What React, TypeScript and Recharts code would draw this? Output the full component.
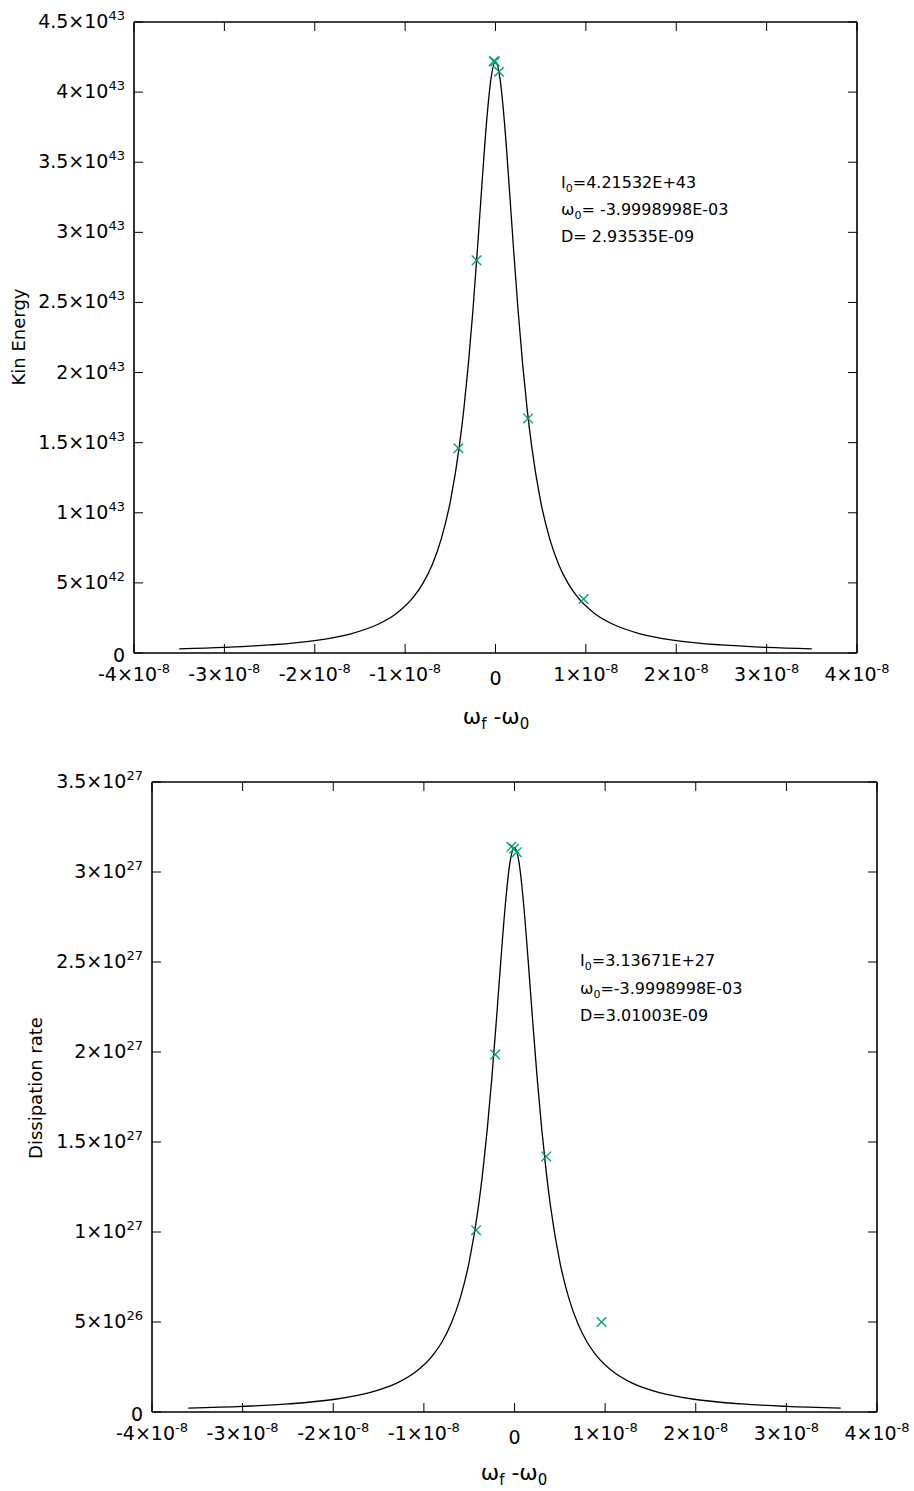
import React from "react";
import { ComposedChart, Line, Scatter, XAxis, YAxis } from "recharts";

// --- data ---
const X_TICKS = [-4e-8, -3e-8, -2e-8, -1e-8, 0, 1e-8, 2e-8, 3e-8, 4e-8];

const KIN_Y_TICKS = [0, 5e42, 1e43, 1.5e43, 2e43, 2.5e43, 3e43, 3.5e43, 4e43, 4.5e43];
const KIN_CURVE_X = [
  -35e-9, -30e-9, -25e-9, -20e-9, -16e-9, -13e-9, -11e-9, -9e-9, -8e-9, -7e-9, -6e-9, -5e-9, -4e-9, -3.5e-9,
  -3e-9, -2.5e-9, -2e-9, -1.5e-9, -1e-9, -0.5e-9, 0, 0.5e-9, 1e-9, 1.5e-9, 2e-9, 2.5e-9, 3e-9, 3.5e-9, 4e-9,
  5e-9, 6e-9, 7e-9, 8e-9, 9e-9, 11e-9, 13e-9, 16e-9, 20e-9, 25e-9, 30e-9, 35e-9,
];
const KIN_CURVE_Y = [
  2.94e41, 4.0e41, 5.73e41, 8.89e41, 1.37e42, 2.05e42, 2.8e42, 4.05e42, 5.0e42, 6.3e42, 8.14e42, 1.08e43, 1.475e43, 1.741e43,
  2.062e43, 2.443e43, 2.879e43, 3.342e43, 3.777e43, 4.096e43, 4.215e43, 4.096e43, 3.777e43, 3.342e43, 2.879e43, 2.443e43, 2.062e43, 1.741e43, 1.475e43,
  1.08e43, 8.14e42, 6.3e42, 5.0e42, 4.05e42, 2.8e42, 2.05e42, 1.37e42, 8.89e41, 5.73e41, 4.0e41, 2.94e41,
];
const KIN_PTS_X = [-4.1e-9, -2.1e-9, -0.2e-9, -0.05e-9, 0.39e-9, 3.6e-9, 9.75e-9];
const KIN_PTS_Y = [1.46e43, 2.8e43, 4.22e43, 4.218e43, 4.145e43, 1.673e43, 3.85e42];

const DIS_Y_TICKS = [0, 5e26, 1e27, 1.5e27, 2e27, 2.5e27, 3e27, 3.5e27];
const DIS_CURVE_X = [
  -36e-9, -30e-9, -25e-9, -20e-9, -16e-9, -13e-9, -11e-9, -9e-9, -8e-9, -7e-9, -6e-9, -5e-9, -4e-9, -3.5e-9,
  -3e-9, -2.5e-9, -2e-9, -1.5e-9, -1e-9, -0.5e-9, 0, 0.5e-9, 1e-9, 1.5e-9, 2e-9, 2.5e-9, 3e-9, 3.5e-9, 4e-9,
  5e-9, 6e-9, 7e-9, 8e-9, 9e-9, 11e-9, 13e-9, 16e-9, 20e-9, 25e-9, 30e-9, 36e-9,
];
const DIS_CURVE_Y = [
  2.18e25, 3.13e25, 4.48e25, 6.95e25, 1.07e26, 1.6e26, 2.19e26, 3.16e26, 3.89e26, 4.9e26, 6.31e26, 8.34e26, 1.134e27, 1.334e27,
  1.574e27, 1.856e27, 2.176e27, 2.513e27, 2.825e27, 3.053e27, 3.137e27, 3.053e27, 2.825e27, 2.513e27, 2.176e27, 1.856e27, 1.574e27, 1.334e27, 1.134e27,
  8.34e26, 6.31e26, 4.9e26, 3.89e26, 3.16e26, 2.19e26, 1.6e26, 1.07e26, 6.95e25, 4.48e25, 3.13e25, 2.18e25,
];
const DIS_PTS_X = [-4.24e-9, -2.13e-9, -0.35e-9, -0.05e-9, 0.25e-9, 3.5e-9, 9.6e-9];
const DIS_PTS_Y = [1.01e27, 1.986e27, 3.14e27, 3.13e27, 3.11e27, 1.42e27, 5.0e26];

const FONT = "DejaVu Sans";
const GREEN = "#009e73";
const TICK_LEN = 9;

function sci(v: number) {
  if (v === 0) return { m: "0", e: "" };
  const [m, e] = v.toExponential().split("e");
  return { m, e: String(parseInt(e, 10)) };
}

function Label10({ v, x, y, anchor, supBase, plainBase }: any) {
  const { m, e } = sci(v);
  if (!e) {
    return (
      <text x={x} y={y + plainBase} textAnchor={anchor} fontSize={19} fontFamily={FONT} fill="#000">
        {m}
      </text>
    );
  }
  return (
    <text x={x} y={y + supBase} textAnchor={anchor} fontSize={19} fontFamily={FONT} fill="#000">
      {m}×10<tspan dy={-8} fontSize={13}>{e}</tspan>
    </text>
  );
}

const BottomTick = (props: any) => {
  const { x, y, payload } = props;
  return (
    <g>
      <line x1={x} x2={x} y1={y} y2={y - TICK_LEN} stroke="#000" strokeWidth={1} />
      <Label10 v={payload.value} x={x} y={y} anchor="middle" supBase={28} plainBase={32} />
    </g>
  );
};
const TopTick = (props: any) => {
  const { x, y } = props;
  return <line x1={x} x2={x} y1={y} y2={y + TICK_LEN} stroke="#000" strokeWidth={1} />;
};
const LeftTick = (props: any) => {
  const { x, y, payload } = props;
  return (
    <g>
      <line x1={x} x2={x + TICK_LEN} y1={y} y2={y} stroke="#000" strokeWidth={1} />
      <Label10 v={payload.value} x={x - 9} y={y} anchor="end" supBase={6} plainBase={9} />
    </g>
  );
};
const RightTick = (props: any) => {
  const { x, y } = props;
  return <line x1={x} x2={x - TICK_LEN} y1={y} y2={y} stroke="#000" strokeWidth={1} />;
};

const XMark = (props: any) => {
  const { cx, cy } = props;
  const r = 4.8;
  return (
    <g stroke={GREEN} strokeWidth={1.3}>
      <line x1={cx - r} y1={cy - r} x2={cx + r} y2={cy + r} />
      <line x1={cx - r} y1={cy + r} x2={cx + r} y2={cy - r} />
    </g>
  );
};

const AXIS_LINE = { stroke: "#000", strokeWidth: 1.6 };

function Panel({ height, left, right, top, bottom, yTicks, yMax, curve, pts }: any) {
  const xDomain = [-4e-8, 4e-8];
  return (
    <ComposedChart width={914} height={height} margin={{ top: 0, right: 0, bottom: 0, left: 0 }}>
      <XAxis xAxisId="b" dataKey="x" type="number" domain={xDomain} ticks={X_TICKS} interval={0} allowDataOverflow
        height={bottom} tickSize={0} tickMargin={0} tickLine={false} axisLine={AXIS_LINE} tick={<BottomTick />} />
      <XAxis xAxisId="t" orientation="top" dataKey="x" type="number" domain={xDomain} ticks={X_TICKS} interval={0} allowDataOverflow
        height={top} tickSize={0} tickMargin={0} tickLine={false} axisLine={AXIS_LINE} tick={<TopTick />} />
      <YAxis yAxisId="l" dataKey="y" type="number" domain={[0, yMax]} ticks={yTicks} interval={0} allowDataOverflow
        width={left} tickSize={0} tickMargin={0} tickLine={false} axisLine={AXIS_LINE} tick={<LeftTick />} />
      <YAxis yAxisId="r" orientation="right" dataKey="y" type="number" domain={[0, yMax]} ticks={yTicks} interval={0} allowDataOverflow
        width={right} tickSize={0} tickMargin={0} tickLine={false} axisLine={AXIS_LINE} tick={<RightTick />} />
      <Line xAxisId="b" yAxisId="l" data={curve} dataKey="y" type="monotone" stroke="#000" strokeWidth={1.3}
        dot={false} activeDot={false} isAnimationActive={false} />
      <Scatter xAxisId="t" yAxisId="r" data={pts} dataKey="y" shape={<XMark />} isAnimationActive={false} />
    </ComposedChart>
  );
}

const zip = (xs: number[], ys: number[]) => xs.map((x, i) => ({ x, y: ys[i] }));

export default function App() {
  const kinCurve = zip(KIN_CURVE_X, KIN_CURVE_Y);
  const kinPts = zip(KIN_PTS_X, KIN_PTS_Y);
  const disCurve = zip(DIS_CURVE_X, DIS_CURVE_Y);
  const disPts = zip(DIS_PTS_X, DIS_PTS_Y);
  return (
    <div style={{ position: "absolute", left: 0, top: 0, width: 914, height: 1491, background: "#fff", fontFamily: FONT }}>
      <div style={{ position: "absolute", left: 0, top: 0 }}>
        <Panel height={760} left={134} right={57} top={22} bottom={107} yTicks={KIN_Y_TICKS} yMax={4.5e43}
          curve={kinCurve} pts={kinPts} />
      </div>
      <div style={{ position: "absolute", left: 0, top: 760 }}>
        <Panel height={731} left={152} right={37} top={22} bottom={79} yTicks={DIS_Y_TICKS} yMax={3.5e27}
          curve={disCurve} pts={disPts} />
      </div>
      <svg width={914} height={1491} style={{ position: "absolute", left: 0, top: 0, pointerEvents: "none" }}
        fontFamily={FONT} fill="#000">
        <text transform="translate(25,337) rotate(-90)" textAnchor="middle" fontSize={18}>Kin Energy</text>
        <text transform="translate(42,1088) rotate(-90)" textAnchor="middle" fontSize={18}>Dissipation rate</text>

        <text x={496} y={724} textAnchor="middle" fontSize={22}>
          ω<tspan dy={5} fontSize={15}>f</tspan><tspan dy={-5}> -ω</tspan><tspan dy={5} fontSize={15}>0</tspan>
        </text>
        <text x={514} y={1480} textAnchor="middle" fontSize={22}>
          ω<tspan dy={5} fontSize={15}>f</tspan><tspan dy={-5}> -ω</tspan><tspan dy={5} fontSize={15}>0</tspan>
        </text>

        <g fontSize={16}>
          <text x={561} y={188}>I<tspan dy={4} fontSize={11}>0</tspan><tspan dy={-4}>=4.21532E+43</tspan></text>
          <text x={561} y={215}>ω<tspan dy={4} fontSize={11}>0</tspan><tspan dy={-4}>= -3.9998998E-03</tspan></text>
          <text x={561} y={242}>D= 2.93535E-09</text>
        </g>
        <g fontSize={16}>
          <text x={580} y={966}>I<tspan dy={4} fontSize={11}>0</tspan><tspan dy={-4}>=3.13671E+27</tspan></text>
          <text x={580} y={994}>ω<tspan dy={4} fontSize={11}>0</tspan><tspan dy={-4}>=-3.9998998E-03</tspan></text>
          <text x={580} y={1021}>D=3.01003E-09</text>
        </g>
      </svg>
    </div>
  );
}
